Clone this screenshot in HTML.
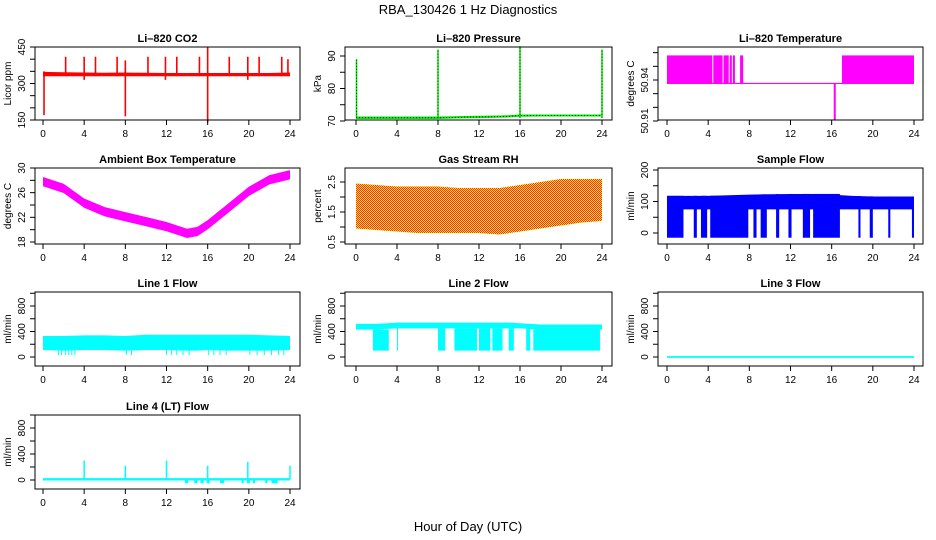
<!DOCTYPE html>
<html><head><meta charset="utf-8">
<style>
body{margin:0;background:#fff;}
svg{display:block;font-family:"Liberation Sans",sans-serif;}
.pt{font-size:11px;font-weight:bold;text-anchor:middle;}
.tl{font-size:10px;text-anchor:middle;}
</style></head>
<body>
<svg id="chart" width="936" height="540" viewBox="0 0 936 540" xmlns="http://www.w3.org/2000/svg">
<defs>
<pattern id="rhpat" width="2" height="2" patternUnits="userSpaceOnUse">
<rect width="2" height="2" fill="#ffee00"/><rect width="1" height="1" fill="#ff2a00"/><rect x="1" y="1" width="1" height="1" fill="#ff2a00"/>
</pattern>
</defs>
<text x="468" y="14" font-size="13" text-anchor="middle">RBA_130426  1 Hz Diagnostics</text>
<text x="468" y="531" font-size="13" text-anchor="middle">Hour of Day (UTC)</text>
</svg>
<script>
// ---- data ----
const hours = [0,2,4,6,8,10,12,14,15,16,18,20,22,24];
const xTicks = [0,4,8,12,16,20,24];
// CO2
const co2Lo = [330,330,330,330,330,330,330,330,330,330,330,330,330,330];
const co2Hi = [348,346,345,344,345,344,343,343,343,343,343,343,343,345];
const co2SpikeHours = [0.1,2.2,4.0,5.1,7.2,8.0,10.2,11.9,13.0,15.2,16.0,18.1,19.9,21.0,23.2,23.8];
const co2SpikeTop = [350,410,410,410,410,395,410,410,410,410,450,410,410,410,410,400];
const co2SpikeBot = [170,330,315,330,330,165,330,315,330,330,140,330,315,330,330,330];
// Pressure
const presLo = [70.6,70.6,70.6,70.6,70.6,70.8,70.9,71.0,71.1,71.3,71.4,71.4,71.4,71.4];
const presHi = [71.4,71.4,71.4,71.4,71.4,71.5,71.6,71.7,71.8,72.0,72.0,72.0,72.0,72.0];
const presSpikeHours = [0.05,8.0,16.0,24.0];
const presSpikeTop = [89,92,93,92];
// Li-820 temperature
const tempBlocks = [[0,4.4],[4.5,5.4],[5.5,6.0],[6.1,6.3],[6.4,6.6],[7.1,7.4],[17.0,24.0]];
const tempTop = 50.958;
const tempBase = 50.9375;
const tempDipHour = 16.3;
const tempDipVal = 50.911;
// Ambient box temperature
const ambMid = [27.8,26.7,24.3,22.9,22.1,21.3,20.5,19.4,19.7,20.8,23.5,26.2,28.1,28.9];
const ambHalf = 0.75;
// Gas stream RH
const rhLo = [0.95,0.9,0.85,0.8,0.8,0.8,0.8,0.75,0.8,0.85,0.95,1.05,1.15,1.2];
const rhHi = [2.45,2.4,2.35,2.35,2.35,2.3,2.3,2.3,2.35,2.4,2.5,2.6,2.6,2.6];
// Sample flow
const sfLo = 75;
const sfHi = [118,118,118,120,122,123,124,124,124,122,118,116,116,116];
const sfDropBlocks = [[0,1.6],[2.6,2.9],[3.3,3.9],[4.2,7.9],[8.4,8.7],[9.1,9.7],[10.6,10.9],[11.8,12.1],[13.2,13.9],[14.2,16.8],[18.6,18.8],[19.7,20.0],[21.5,21.7],[23.8,24.0]];
const sfDropVal = -15;
// Line 1 flow
const l1Lo = [110,100,110,110,100,110,110,100,100,110,100,100,100,110];
const l1Hi = [330,330,340,340,330,350,350,350,350,350,350,350,340,330];
const l1DropHours = [1.5,1.8,2.2,2.5,2.8,3.1,8.1,8.6,12.0,12.5,13.0,13.6,14.2,16.1,16.6,17.2,17.8,20.1,20.8,21.5,22.2,22.9,23.4];
const l1DropVal = 30;
// Line 2 flow
const l2Lo = [430,430,450,450,450,450,450,450,450,450,430,430,430,430];
const l2Hi = [520,520,540,540,540,540,540,540,540,530,510,510,510,510];
const l2DropBlocks = [[1.65,3.2],[4.0,4.1],[8.0,8.7],[9.6,11.8],[12.0,13.1],[13.3,14.3],[14.9,15.4],[16.6,17.0],[17.3,23.8]];
const l2DropVal = 100;
// Line 3 flow
const l3Val = [0,0,0,0,0,0,0,0,0,0,0,0,0,0];
// Line 4 flow
const l4Val = [10,10,10,10,10,10,10,10,10,10,10,10,10,10];
const l4SpikeHours = [4.0,8.0,12.0,16.0,19.9,24.0];
const l4SpikeTop = [300,220,300,220,280,220];
const l4DipBlocks = [[13.8,14.1],[14.7,15.0],[15.3,15.6],[15.9,16.2],[17.2,17.6],[19.3,19.5],[19.8,20.1],[20.4,20.6],[21.6,21.8],[22.2,22.8]];
const l4DipVal = -50;

// ---- layout ----
const cols = [{L:35,R:300,x0:43,x24:290},{L:345,R:612,x0:356,x24:602},{L:658,R:923,x0:667,x24:914}];
const rows = [{T:47,B:120},{T:168,B:244},{T:292,B:366},{T:415,B:489}];
const svg = document.getElementById('chart');
const NS = 'http://www.w3.org/2000/svg';
function mk(tag, attrs, parent){const e=document.createElementNS(NS,tag);for(const k in attrs)e.setAttribute(k,attrs[k]);(parent||svg).appendChild(e);return e;}

function panel(ci, ri, name, title, ylab, yref, yTicks, yLabels){
  const c=cols[ci], r=rows[ri];
  const g=mk('g',{});
  
  
  const xs=h=>c.x0+(c.x24-c.x0)*h/24;
  const ys=v=>yref[1]+(yref[3]-yref[1])*(v-yref[0])/(yref[2]-yref[0]);
  const t=mk('text',{x:(c.L+c.R)/2,y:r.T-5,class:'pt'},g);t.textContent=title;
  
  
  const plot=mk('g',{},g);
  
  
  const box=mk('rect',{x:c.L,y:r.T,width:c.R-c.L,height:r.B-r.T,fill:'none',stroke:'#000','stroke-width':1},g);
  
  
  mk('line',{x1:xs(0),x2:xs(24),y1:r.B,y2:r.B,stroke:'#000'},g);
  xTicks.forEach(h=>{
    mk('line',{x1:xs(h),x2:xs(h),y1:r.B,y2:r.B+5,stroke:'#000'},g);
    const tx=mk('text',{x:xs(h),y:r.B+17,class:'tl'},g);tx.textContent=h;
    
    
  });
  mk('line',{x1:c.L,x2:c.L,y1:ys(yTicks[0]),y2:ys(yTicks[yTicks.length-1]),stroke:'#000'},g);
  yTicks.forEach(v=>mk('line',{x1:c.L-5,x2:c.L,y1:ys(v),y2:ys(v),stroke:'#000'},g));
  yLabels.forEach(v=>{
    const y=ys(v);const tx=mk('text',{x:c.L-10,y:y,class:'tl',transform:`rotate(-90 ${c.L-10} ${y})`},g);tx.textContent=v;
    
    
  });
  const yl=mk('text',{x:c.L-24,y:(r.T+r.B)/2,class:'tl',transform:`rotate(-90 ${c.L-24} ${(r.T+r.B)/2})`},g);yl.textContent=ylab;
  
  
  return {xs,ys,plot};
}
function band(p,lo,hi,fill){
  let pts=hours.map((h,i)=>p.xs(h)+','+p.ys(hi[i]));
  pts=pts.concat(hours.slice().reverse().map((h,j)=>{const i=hours.length-1-j;return p.xs(h)+','+p.ys(lo[i]);}));
  const e=mk('polygon',{points:pts.join(' '),fill:fill},p.plot);
  
  
}
function interp(arr,h){for(let i=0;i<hours.length-1;i++){if(h<=hours[i+1]){const f=(h-hours[i])/(hours[i+1]-hours[i]);return arr[i]+f*(arr[i+1]-arr[i]);}}return arr[arr.length-1];}
function block(p,h1,h2,v1,v2,fill){
  const y1=p.ys(v1),y2=p.ys(v2);
  const e=mk('rect',{x:p.xs(h1),y:Math.min(y1,y2),width:Math.max(1,p.xs(h2)-p.xs(h1)),height:Math.abs(y2-y1),fill:fill},p.plot);
  
  
}
function vline(p,h,v1,v2,color,w,dash){
  const e=mk('line',{x1:p.xs(h),x2:p.xs(h),y1:p.ys(v1),y2:p.ys(v2),stroke:color,'stroke-width':w||1.5},p.plot);
  if(dash)e.setAttribute('stroke-dasharray',dash);
  
  
}
const red='#ff0000', grn='#00ee00', mag='#ff00ff', blu='#0000ff', cyn='#00ffff';

let p=panel(0,0,'co2-panel','Li–820 CO2','Licor ppm',[150,120,450,47],[150,200,250,300,350,400,450],[150,300,450]);
band(p,co2Lo,co2Hi,red);
co2SpikeHours.forEach((h,i)=>vline(p,h,co2SpikeBot[i],co2SpikeTop[i],red,1.6));

p=panel(1,0,'pressure-panel','Li–820 Pressure','kPa',[70,121,90,56],[70,75,80,85,90],[70,80,90]);
band(p,presLo,presHi,grn);
mk('polyline',{points:hours.map((h,i)=>p.xs(h)+','+p.ys((presLo[i]+presHi[i])/2)).join(' '),fill:'none',stroke:'#000','stroke-width':0.8,'stroke-dasharray':'1,2'},p.plot);
presSpikeHours.forEach((h,i)=>{vline(p,h,71,presSpikeTop[i],grn,1.6);vline(p,h,71,presSpikeTop[i],'#000',0.8,'1,2');});

p=panel(2,0,'li820-temperature-panel','Li–820 Temperature','degrees C',[50.91,121,50.94,80],[50.91,50.92,50.93,50.94,50.95,50.96],[50.91,50.94]);
tempBlocks.forEach(b=>block(p,b[0],b[1],tempBase,tempTop,mag));
mk('line',{x1:p.xs(0),x2:p.xs(24),y1:p.ys(tempBase),y2:p.ys(tempBase),stroke:mag,'stroke-width':1.2},p.plot);
vline(p,tempDipHour,tempBase,tempDipVal,mag,2);

p=panel(0,1,'ambient-temperature-panel','Ambient Box Temperature','degrees C',[18,242,30,168],[18,20,22,24,26,28,30],[18,22,26,30]);
band(p,ambMid.map(v=>v-ambHalf),ambMid.map(v=>v+ambHalf),mag);

p=panel(1,1,'gas-rh-panel','Gas Stream RH','percent',[0.5,242,2.5,182],[0.5,1,1.5,2,2.5],[0.5,1.5,2.5]);
band(p,rhLo,rhHi,'url(#rhpat)');

p=panel(2,1,'sample-flow-panel','Sample Flow','ml/min',[0,233,200,170],[0,50,100,150,200],[0,100,200]);
band(p,hours.map(()=>sfLo),sfHi,blu);
sfDropBlocks.forEach(b=>block(p,b[0],b[1],sfDropVal,interp(sfHi,b[0]),blu));

const fT=[0,200,400,600,800,1000], fL=[0,400,800];
p=panel(0,2,'line1-flow-panel','Line 1 Flow','ml/min',[0,357,800,306],fT,fL);
band(p,l1Lo,l1Hi,cyn);
l1DropHours.forEach(h=>vline(p,h,l1DropVal,150,cyn,1));

p=panel(1,2,'line2-flow-panel','Line 2 Flow','ml/min',[0,357,800,306],fT,fL);
band(p,l2Lo,l2Hi,cyn);
l2DropBlocks.forEach(b=>block(p,b[0],b[1],l2DropVal,interp(l2Lo,b[0]),cyn));

p=panel(2,2,'line3-flow-panel','Line 3 Flow','ml/min',[0,357,800,306],fT,fL);
band(p,l3Val.map(v=>v-14),l3Val.map(v=>v+14),cyn);

p=panel(0,3,'line4-flow-panel','Line 4 (LT) Flow','ml/min',[0,480,800,428],fT,fL);
band(p,l4Val.map(v=>v-18),l4Val.map(v=>v+18),cyn);
l4SpikeHours.forEach((h,i)=>vline(p,h,10,l4SpikeTop[i],cyn,1.5));
l4DipBlocks.forEach(b=>block(p,b[0],b[1],l4DipVal,10,cyn));
</script>
</body></html>
